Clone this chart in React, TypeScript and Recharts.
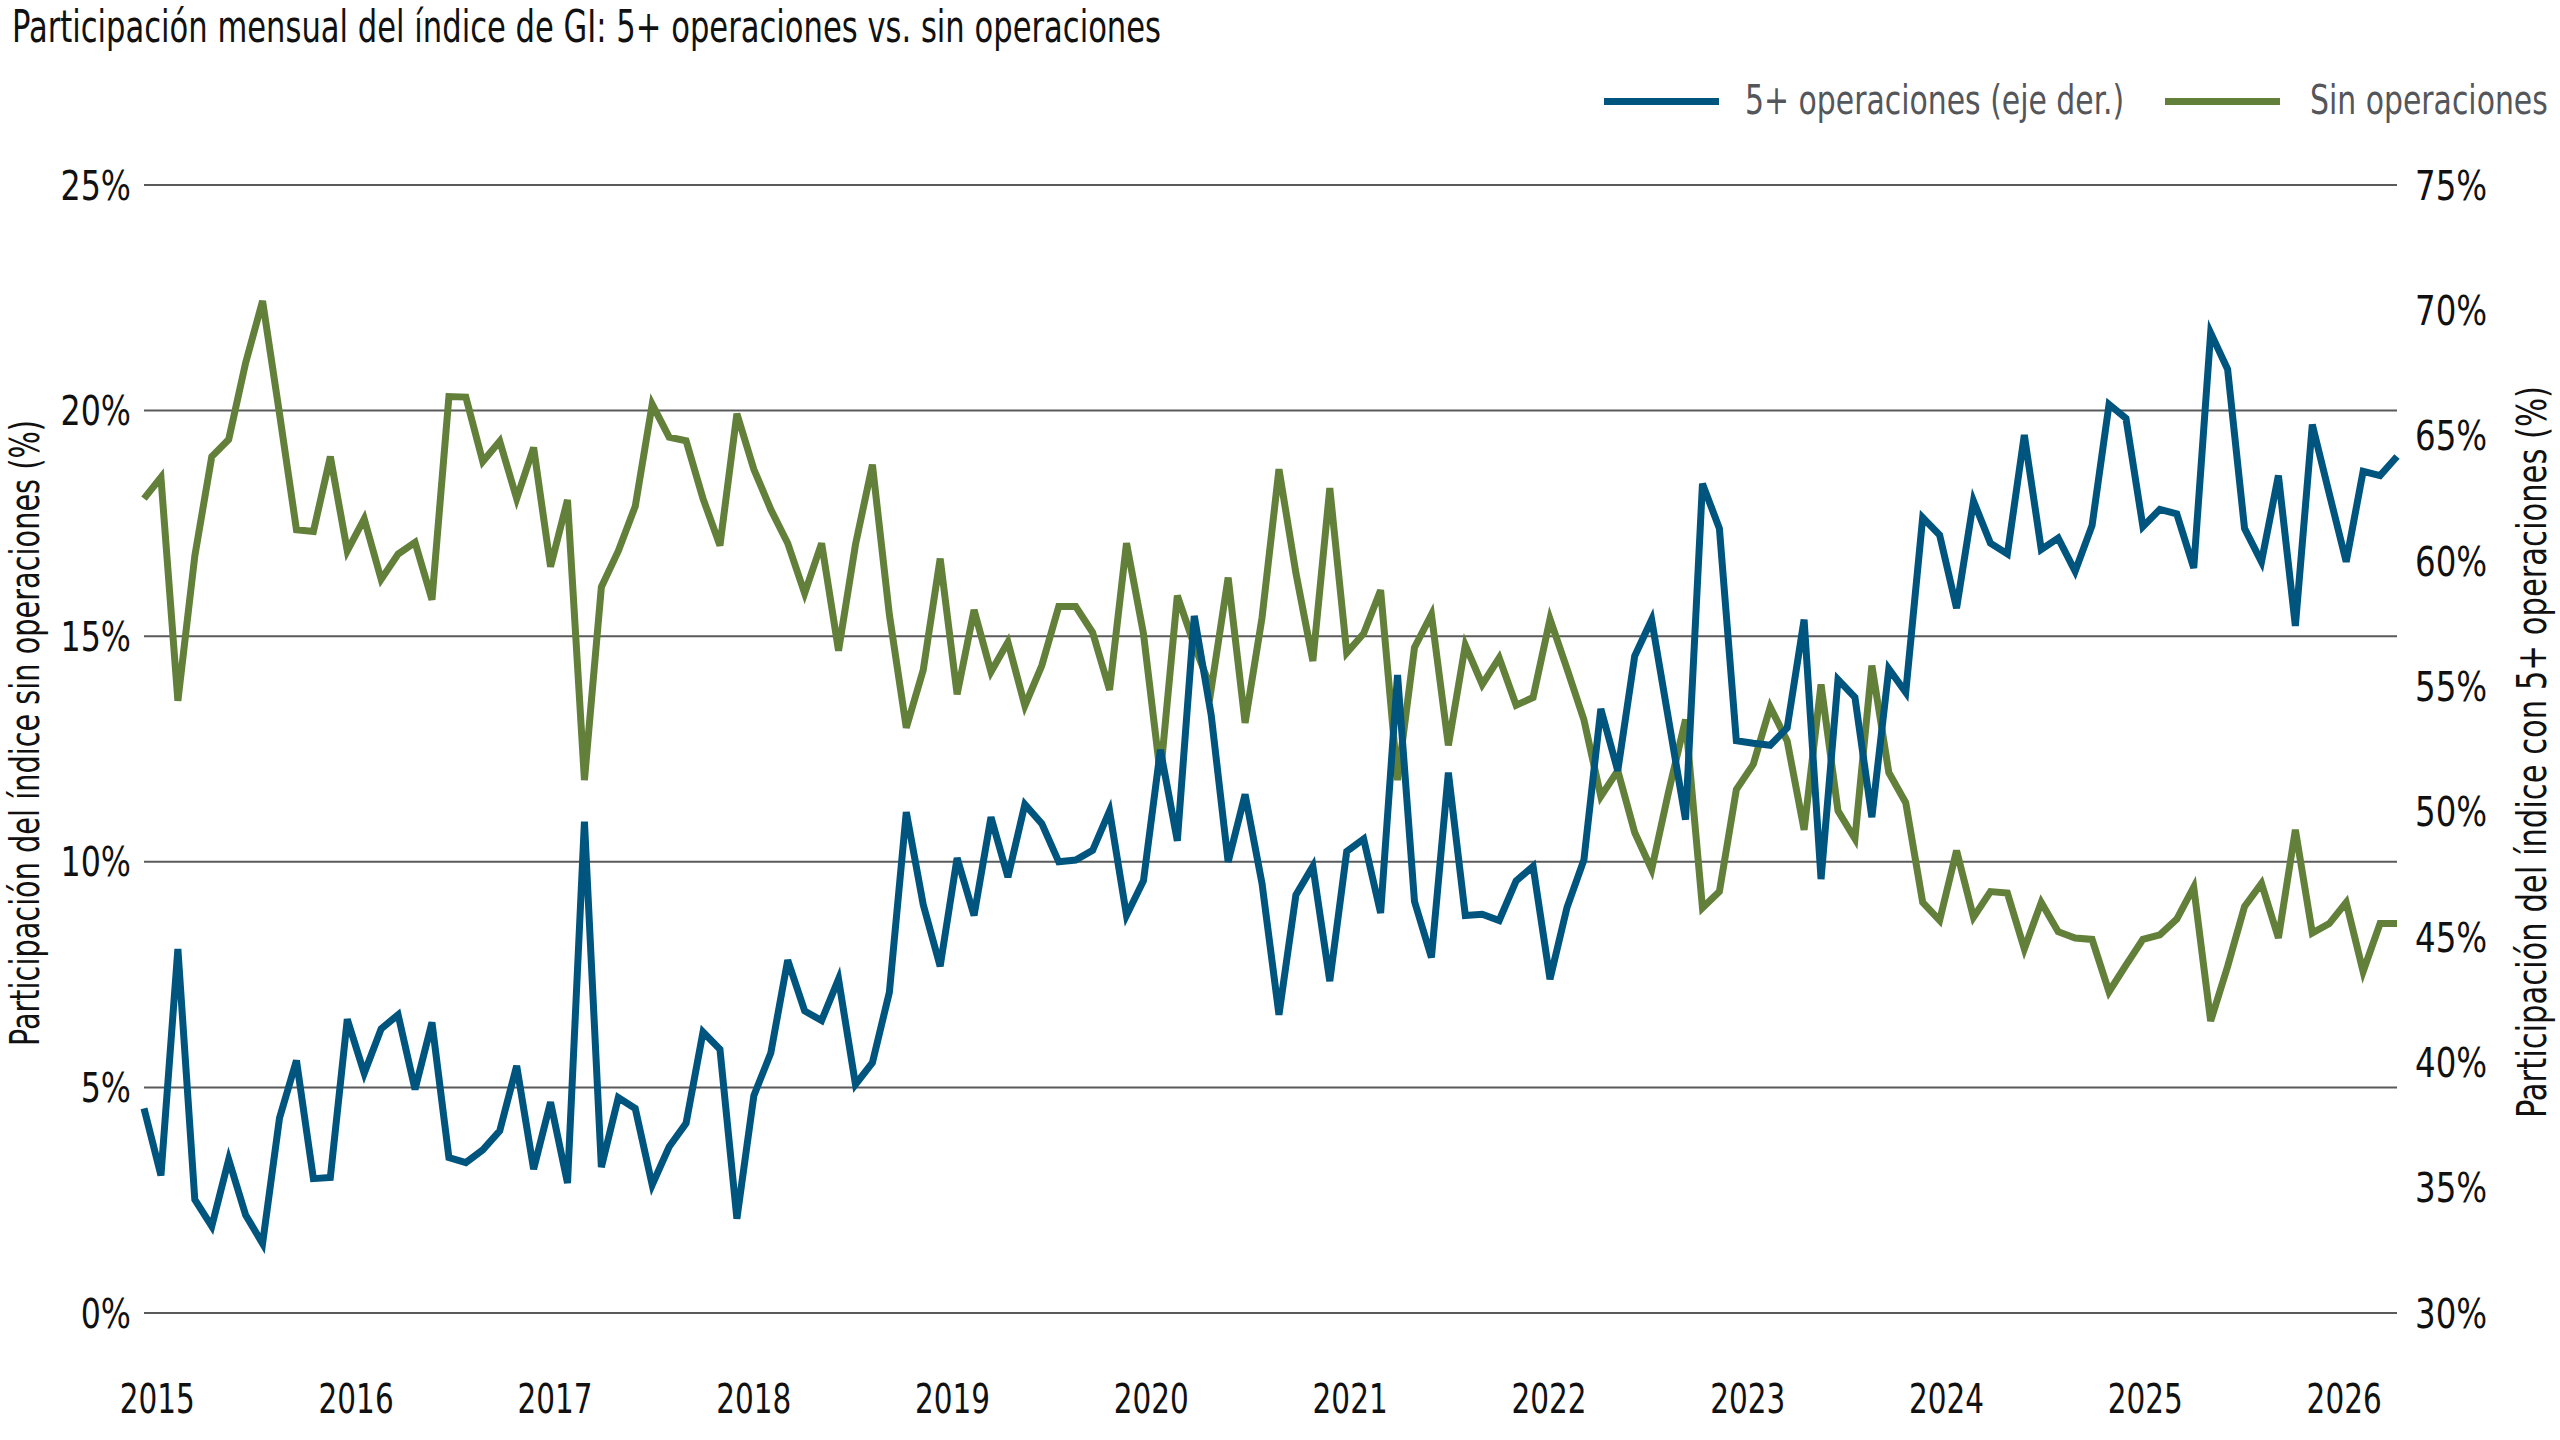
import { LineChart, Line, XAxis, YAxis, CartesianGrid } from "recharts";

// Participación del índice sin operaciones (%), eje izquierdo
const sinOperaciones = [
  18.05, 18.52, 13.57, 16.78, 18.98, 19.36, 21.06, 22.43, 19.93, 17.36, 17.32, 18.98,
  16.89, 17.6, 16.26, 16.82, 17.08, 15.81, 20.31, 20.3, 18.87, 19.32, 18.05, 19.18,
  16.54, 18.02, 11.81, 16.09, 16.89, 17.88, 20.14, 19.41, 19.33, 18.05, 17.01, 19.93,
  18.7, 17.81, 17.06, 15.95, 17.06, 14.68, 17.03, 18.8, 15.48, 12.97, 14.25, 16.72,
  13.71, 15.58, 14.21, 14.87, 13.46, 14.35, 15.66, 15.66, 15.08, 13.81, 17.06, 15.06,
  11.92, 15.9, 14.8, 13.83, 16.3, 13.08, 15.41, 18.7, 16.4, 14.45, 18.28, 14.63,
  15.06, 16.02, 11.81, 14.75, 15.48, 12.58, 14.8, 13.93, 14.52, 13.47, 13.64, 15.38,
  14.28, 13.15, 11.45, 12.02, 10.65, 9.83, 11.55, 13.15, 8.98, 9.34, 11.6, 12.16,
  13.43, 12.68, 10.71, 13.93, 11.13, 10.51, 14.35, 11.98, 11.31, 9.1, 8.7, 10.25,
  8.77, 9.34, 9.31, 8.07, 9.1, 8.45, 8.31, 8.28, 7.12, 7.71, 8.28, 8.38,
  8.73, 9.44, 6.47, 7.68, 9.01, 9.52, 8.31, 10.71, 8.42, 8.63, 9.1, 7.57,
  8.63, 8.63,
];

// Participación del índice con 5+ operaciones (%), eje derecho
const cincoMasOperaciones = [
  38.16, 35.49, 44.52, 34.52, 33.46, 36.12, 33.91, 32.77, 37.78, 40.07, 35.36, 35.41,
  41.72, 39.56, 41.34, 41.9, 38.92, 41.59, 36.2, 36.0, 36.51, 37.27, 39.86, 35.74,
  38.41, 35.18, 49.6, 35.82, 38.59, 38.16, 35.11, 36.63, 37.57, 41.21, 40.52, 33.76,
  38.67, 40.37, 44.08, 42.05, 41.67, 43.32, 39.12, 39.99, 42.79, 49.98, 46.29, 43.83,
  48.15, 45.86, 49.78, 47.39, 50.29, 49.52, 48.0, 48.07, 48.46, 50.03, 45.86, 47.24,
  52.47, 48.84, 57.81, 53.85, 48.0, 50.69, 47.13, 41.9, 46.68, 47.82, 43.24, 48.41,
  48.91, 45.96, 55.45, 46.42, 44.18, 51.56, 45.86, 45.91, 45.66, 47.24, 47.82, 43.32,
  46.17, 48.07, 54.1, 51.63, 56.21, 57.66, 53.67, 49.68, 63.08, 61.3, 52.83, 52.73,
  52.65, 53.34, 57.66, 47.31, 55.27, 54.56, 49.78, 55.7, 54.76, 61.73, 61.04, 58.12,
  62.39, 60.71, 60.28, 65.03, 60.46, 60.91, 59.59, 61.42, 66.25, 65.69, 61.37, 62.06,
  61.88, 59.72, 69.1, 67.65, 61.3, 59.97, 63.41, 57.41, 65.44, 62.69, 59.97, 63.58,
  63.41, 64.17,
];

const years = [2015, 2016, 2017, 2018, 2019, 2020, 2021, 2022, 2023, 2024, 2025, 2026];
const leftTicks = [0, 5, 10, 15, 20, 25];
const rightTicks = [30, 35, 40, 45, 50, 55, 60, 65, 70, 75];

const seriesNames = ["5+ operaciones (eje der.)", "Sin operaciones"];
const title = "Participación mensual del índice de GI: 5+ operaciones vs. sin operaciones";
const leftTitle = "Participación del índice sin operaciones (%)";
const rightTitle = "Participación del índice con 5+ operaciones (%)";

// fecha del primer dato en año decimal y paso mensual
const firstDate = 2014.933;
const step = 0.08521;

const data = sinOperaciones.map((v, i) => ({
  t: firstDate + i * step,
  sin: v,
  cinco: cincoMasOperaciones[i],
}));

const BLUE = "#00557f";
const GREEN = "#62803a";
const FONT = '"Liberation Sans Narrow", "DejaVu Sans Condensed", Roboto, sans-serif';

// the installed fonts are wider than the original condensed face, so squeeze horizontally
function NarrowTick({ x, y, payload, textAnchor, squeeze, dy, fmt }: any) {
  return (
    <g transform={`translate(${x},${y})`}>
      <text
        transform={`scale(${squeeze},1)`}
        textAnchor={textAnchor}
        dy={dy}
        fill="#111"
        fontSize={41}
        fontFamily={FONT}
      >
        {fmt(payload.value)}
      </text>
    </g>
  );
}

const pct = (v: number) => `${v}%`;

export default function App() {
  return (
    <div
      style={{
        position: "absolute",
        left: 0,
        top: 0,
        width: 2560,
        height: 1440,
        background: "#fff",
        fontFamily: FONT,
      }}
    >
      <div
        style={{
          position: "absolute",
          left: 12,
          top: 0,
          fontSize: 45,
          color: "#111",
          whiteSpace: "nowrap",
          transform: "scaleX(0.756)",
          transformOrigin: "left center",
        }}
      >
        {title}
      </div>

      {/* leyenda */}
      <div style={{ position: "absolute", left: 1604, top: 98, width: 115, height: 7, background: BLUE }} />
      <div
        style={{
          position: "absolute",
          left: 1745,
          top: 76,
          fontSize: 41,
          color: "#53565a",
          whiteSpace: "nowrap",
          transform: "scaleX(0.81)",
          transformOrigin: "left center",
        }}
      >
        {seriesNames[0]}
      </div>
      <div style={{ position: "absolute", left: 2165, top: 98, width: 115, height: 7, background: GREEN }} />
      <div
        style={{
          position: "absolute",
          left: 2310,
          top: 76,
          fontSize: 41,
          color: "#53565a",
          whiteSpace: "nowrap",
          transform: "scaleX(0.81)",
          transformOrigin: "left center",
        }}
      >
        {seriesNames[1]}
      </div>

      <div
        style={{
          position: "absolute",
          left: 25,
          top: 733,
          transform: "translate(-50%, -50%) rotate(-90deg) scaleX(0.78)",
          fontSize: 41,
          color: "#111",
          whiteSpace: "nowrap",
        }}
      >
        {leftTitle}
      </div>
      <div
        style={{
          position: "absolute",
          left: 2532,
          top: 752,
          transform: "translate(-50%, -50%) rotate(-90deg) scaleX(0.83)",
          fontSize: 41,
          color: "#111",
          whiteSpace: "nowrap",
        }}
      >
        {rightTitle}
      </div>

      <div style={{ position: "absolute", left: 0, top: 0 }}>
        <LineChart width={2560} height={1440} data={data} margin={{ top: 185, right: 43, left: 44, bottom: 17 }}>
          <CartesianGrid yAxisId="left" vertical={false} stroke="#5a5a5a" strokeWidth={2} />
          <XAxis
            dataKey="t"
            type="number"
            domain={["dataMin", "dataMax"]}
            ticks={years}
            interval={0}
            tick={(p: any) => <NarrowTick {...p} squeeze={0.8} dy="0.71em" fmt={String} />}
            tickLine={false}
            axisLine={false}
            tickSize={0}
            tickMargin={71}
            height={110}
          />
          <YAxis
            yAxisId="left"
            domain={[0, 25]}
            ticks={leftTicks}
            tick={(p: any) => <NarrowTick {...p} squeeze={0.86} dy="0.355em" fmt={pct} />}
            tickLine={false}
            axisLine={false}
            tickSize={0}
            tickMargin={13}
            width={100}
          />
          <YAxis
            yAxisId="right"
            orientation="right"
            domain={[30, 75]}
            ticks={rightTicks}
            tick={(p: any) => <NarrowTick {...p} squeeze={0.88} dy="0.355em" fmt={pct} />}
            tickLine={false}
            axisLine={false}
            tickSize={0}
            tickMargin={18}
            width={120}
          />
          <Line
            yAxisId="left"
            dataKey="sin"
            name={seriesNames[1]}
            stroke={GREEN}
            strokeWidth={7}
            dot={false}
            isAnimationActive={false}
          />
          <Line
            yAxisId="right"
            dataKey="cinco"
            name={seriesNames[0]}
            stroke={BLUE}
            strokeWidth={7}
            dot={false}
            isAnimationActive={false}
          />
        </LineChart>
      </div>
    </div>
  );
}
